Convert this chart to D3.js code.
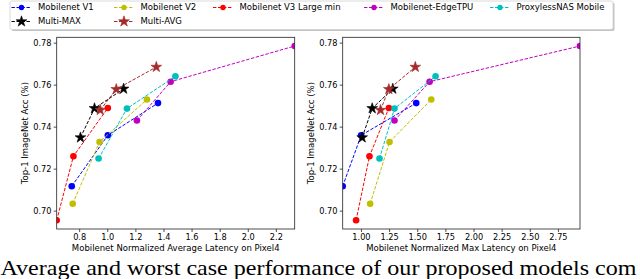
<!DOCTYPE html>
<html><head><meta charset="utf-8">
<script src="https://cdn.jsdelivr.net/npm/d3@7"></script>
<style>
body{margin:0;background:#fff}
svg{display:block}
text{font-family:"DejaVu Sans",sans-serif;fill:#000}
</style>
</head><body>
<svg id="chart" width="640" height="279"></svg>
<script>
// ---------------- DATA ----------------
const models = ["Mobilenet V1","Mobilenet V2","Mobilenet V3 Large min","Mobilenet-EdgeTPU","ProxylessNAS Mobile","Multi-MAX","Multi-AVG"];
const colors = ["#0000ff","#bfbf00","#ff0000","#bf00bf","#00bfbf","#000000","#a52a2a"];
const symbols = ["circle","circle","circle","circle","circle","star","star"];

const accV1 = [0.7116, 0.7359, 0.7512];
const accV2 = [0.7033, 0.7327, 0.7529];
const accV3 = [0.6954, 0.7259, 0.7489];
const accEdgeTPU = [0.7429, 0.7614, 0.7784];
const accProxyless = [0.7248, 0.7486, 0.7640];
const accMultiMax = [0.7348, 0.7487, 0.7580];
const accMultiAvg = [0.7479, 0.7578, 0.7684];

const avgV1 = [0.747, 1.004, 1.361];
const avgV2 = [0.754, 0.945, 1.282];
const avgV3 = [0.640, 0.759, 1.004];
const avgEdgeTPU = [1.211, 1.451, 2.334];
const avgProxyless = [0.938, 1.140, 1.485];
const avgMultiMax = [0.809, 0.909, 1.116];
const avgMultiAvg = [0.950, 1.064, 1.349];

const maxV1 = [0.838, 1.002, 1.491];
const maxV2 = [1.082, 1.254, 1.625];
const maxV3 = [0.957, 1.076, 1.248];
const maxEdgeTPU = [1.298, 1.610, 2.946];
const maxProxyless = [1.165, 1.298, 1.663];
const maxMultiMax = [1.011, 1.100, 1.283];
const maxMultiAvg = [1.174, 1.248, 1.483];

const yTicks = [0.70, 0.72, 0.74, 0.76, 0.78];
const xTicksAvg = [0.8, 1.0, 1.2, 1.4, 1.6, 1.8, 2.0, 2.2];
const xTicksMax = [1.00, 1.25, 1.50, 1.75, 2.00, 2.25, 2.50, 2.75];

const yLabel = "Top-1 ImageNet Acc (%)";
const xLabelAvg = "Mobilenet Normalized Average Latency on Pixel4";
const xLabelMax = "Mobilenet Normalized Max Latency on Pixel4";
const caption = "Average and worst case performance of our proposed models com";

// ---------------- BUILD ----------------
const accs = [accV1,accV2,accV3,accEdgeTPU,accProxyless,accMultiMax,accMultiAvg];
const avgs = [avgV1,avgV2,avgV3,avgEdgeTPU,avgProxyless,avgMultiMax,avgMultiAvg];
const maxs = [maxV1,maxV2,maxV3,maxEdgeTPU,maxProxyless,maxMultiMax,maxMultiAvg];

const svg = d3.select("#chart");
const plotTop = 37.3, plotBottom = 229;
const yAll = accs.flat();
const [yMin, yMax] = d3.extent(yAll);
const yPad = (yMax - yMin) * 0.05;
const y = d3.scaleLinear().domain([yMin - yPad, yMax + yPad]).range([plotBottom, plotTop]);

const dash = "3.4,1.6";
const starSym = d3.symbol().type(d3.symbolStar);
const circleR = 3.3;

function drawPanel(id, left, right, xs, xTicks, xFmt, xLabel, ylabX) {
  const x = d3.scaleLinear().domain(d3.extent(xs.flat())).range([left, right]);
  const g = svg.append("g");
  g.append("clipPath").attr("id", id).append("rect")
    .attr("x", left).attr("y", plotTop).attr("width", right-left).attr("height", plotBottom-plotTop);
  const plot = g.append("g").attr("clip-path", `url(#${id})`);
  models.forEach((m, i) => {
    const pts = xs[i].map((v, j) => [v, accs[i][j]]);
    plot.append("path")
      .attr("d", d3.line().x(d => x(d[0])).y(d => y(d[1]))(pts))
      .attr("fill","none").attr("stroke", colors[i]).attr("stroke-width", 1)
      .attr("stroke-dasharray", dash);
    pts.forEach(p => {
      if (symbols[i] === "circle") {
        plot.append("circle").attr("cx", x(p[0])).attr("cy", y(p[1])).attr("r", circleR)
          .attr("fill", colors[i]);
      } else {
        plot.append("path").attr("d", starSym.size(36)())
          .attr("transform", `translate(${x(p[0])},${y(p[1])})`)
          .attr("fill", colors[i]).attr("stroke", colors[i]).attr("stroke-width", 0.6);
      }
    });
  });
  const xAxis = d3.axisBottom(x).tickValues(xTicks).tickFormat(d3.format(xFmt)).tickSizeOuter(0).tickSize(3).tickPadding(2.5);
  const gx = g.append("g").attr("transform", `translate(0,${plotBottom})`).call(xAxis);
  const yAxis = d3.axisLeft(y).tickValues(yTicks).tickFormat(d3.format(".2f")).tickSizeOuter(0).tickSize(3).tickPadding(2.2);
  const gy = g.append("g").attr("transform", `translate(${left},0)`).call(yAxis);
  [gx, gy].forEach(a => {
    a.select(".domain").remove();
    a.selectAll("text").style("font-family","DejaVu Sans").style("font-size","8.2px").attr("fill","#111");
    a.selectAll("line").attr("stroke","#222").attr("stroke-width",0.8);
  });
  g.append("rect").attr("x", left).attr("y", plotTop).attr("width", right-left).attr("height", plotBottom-plotTop)
    .attr("fill","none").attr("stroke","#222").attr("stroke-width",0.8);
  g.append("text").attr("x", (left+right)/2).attr("y", 251).attr("text-anchor","middle")
    .style("font-size","8.5px").text(xLabel);
  g.append("text").attr("transform", `translate(${ylabX},${(plotTop+plotBottom)/2}) rotate(-90)`)
    .attr("text-anchor","middle").attr("dy","0.35em").style("font-size","8.5px").text(yLabel);
}

drawPanel("clipA", 56.7, 294.7, avgs, xTicksAvg, ".1f", xLabelAvg, 25.5);
drawPanel("clipB", 342.7, 580, maxs, xTicksMax, ".2f", xLabelMax, 311);

// ---------------- LEGEND ----------------
const lg = svg.append("g");
lg.append("rect").attr("x", 11.5).attr("y", 2.5).attr("width", 603).attr("height", 28.5)
  .attr("rx", 2).attr("fill", "#999").attr("opacity", 0.6);
lg.append("rect").attr("x", 10).attr("y", 1).attr("width", 603).attr("height", 28.5)
  .attr("rx", 2).attr("fill", "#fff").attr("stroke", "#d0d0d0").attr("stroke-width", 0.8);
const markerX = [21.5, 124, 223, 374, 500];
const rowY = [7.5, 21.5];
models.forEach((m, i) => {
  const col = i < 5 ? i : i - 5;
  const row = i < 5 ? 0 : 1;
  const mx = markerX[col], my = rowY[row];
  lg.append("line").attr("x1", mx-10).attr("x2", mx+10).attr("y1", my).attr("y2", my)
    .attr("stroke", colors[i]).attr("stroke-width", 1).attr("stroke-dasharray", dash);
  if (symbols[i] === "circle") {
    lg.append("circle").attr("cx", mx).attr("cy", my).attr("r", 2.7).attr("fill", colors[i]);
  } else {
    lg.append("path").attr("d", starSym.size(36)()).attr("transform", `translate(${mx},${my})`)
      .attr("fill", colors[i]).attr("stroke", colors[i]).attr("stroke-width", 0.6);
  }
  lg.append("text").attr("x", mx + 16.5).attr("y", my).attr("dy", "0.35em")
    .style("font-size", "8.5px").text(m);
});

// ---------------- CAPTION ----------------
svg.append("text").attr("x", 0.5).attr("y", 274.5)
  .attr("textLength", 636).attr("lengthAdjust", "spacingAndGlyphs")
  .style("font-family", "'Liberation Serif', serif").style("font-size", "22px")
  .text(caption);
</script>
</body></html>
